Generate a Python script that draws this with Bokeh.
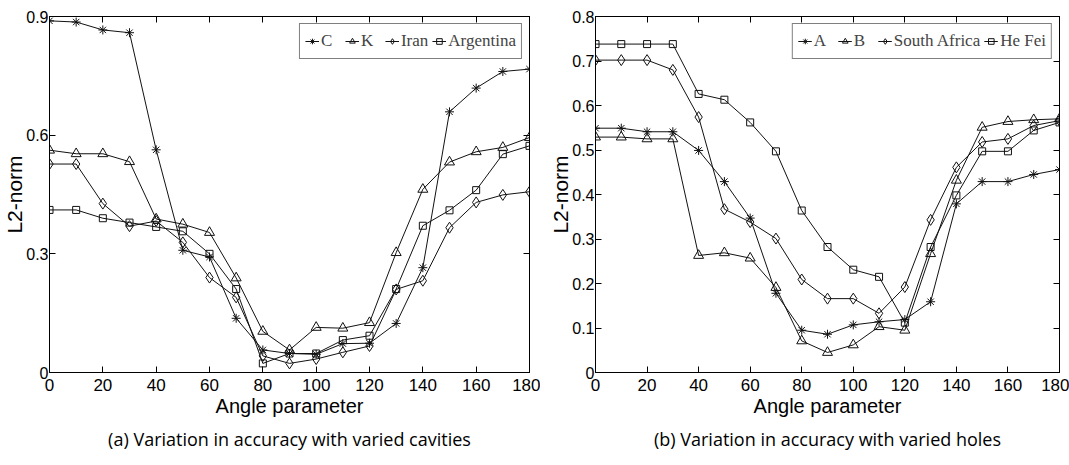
from bokeh.plotting import figure
from bokeh.models import FixedTicker, LinearAxis, Legend, LegendItem, Range1d, Title
from bokeh.layouts import row
from bokeh.embed import file_html
from bokeh.resources import INLINE

# ---------------- data ----------------
angles = [0, 10, 20, 30, 40, 50, 60, 70, 80, 90, 100, 110, 120, 130, 140, 150, 160, 170, 180]
x_ticks = [0, 20, 40, 60, 80, 100, 120, 140, 160, 180]

# (a) cavities
c_vals = [0.889, 0.886, 0.866, 0.859, 0.563, 0.309, 0.292, 0.137, 0.057, 0.048,
          0.046, 0.073, 0.074, 0.124, 0.265, 0.659, 0.719, 0.761, 0.767]
k_vals = [0.562, 0.553, 0.553, 0.533, 0.388, 0.375, 0.354, 0.239, 0.104, 0.057,
          0.114, 0.112, 0.126, 0.303, 0.463, 0.532, 0.558, 0.569, 0.594]
iran_vals = [0.527, 0.527, 0.427, 0.370, 0.383, 0.329, 0.240, 0.190, 0.042, 0.023,
             0.034, 0.051, 0.067, 0.210, 0.232, 0.366, 0.430, 0.449, 0.457]
argentina_vals = [0.411, 0.411, 0.390, 0.379, 0.368, 0.357, 0.300, 0.211, 0.023, 0.048,
                  0.048, 0.082, 0.093, 0.211, 0.371, 0.410, 0.461, 0.552, 0.573]
a_labels = ["C", "K", "Iran", "Argentina"]
a_yticks = [0, 0.3, 0.6, 0.9]
a_ytick_labels = ["0", "0.3", "0.6", "0.9"]
a_caption = "(a) Variation in accuracy with varied cavities"

# (b) holes
hA_vals = [0.549, 0.549, 0.541, 0.541, 0.499, 0.429, 0.347, 0.178, 0.095, 0.086,
           0.107, 0.114, 0.119, 0.159, 0.379, 0.429, 0.429, 0.445, 0.456]
hB_vals = [0.529, 0.529, 0.525, 0.525, 0.263, 0.269, 0.257, 0.191, 0.071, 0.045,
           0.062, 0.103, 0.095, 0.267, 0.432, 0.551, 0.564, 0.568, 0.570]
south_africa_vals = [0.702, 0.702, 0.702, 0.680, 0.574, 0.367, 0.338, 0.301, 0.209, 0.166,
                     0.166, 0.133, 0.192, 0.343, 0.461, 0.518, 0.525, 0.555, 0.566]
he_fei_vals = [0.738, 0.738, 0.738, 0.738, 0.626, 0.613, 0.562, 0.497, 0.364, 0.282,
               0.231, 0.215, 0.112, 0.282, 0.398, 0.497, 0.497, 0.544, 0.562]
b_labels = ["A", "B", "South Africa", "He Fei"]
b_yticks = [0, 0.1, 0.2, 0.3, 0.4, 0.5, 0.6, 0.7, 0.8]
b_ytick_labels = ["0", "0.1", "0.2", "0.3", "0.4", "0.5", "0.6", "0.7", "0.8"]
b_caption = "(b) Variation in accuracy with varied holes"

x_label = "Angle parameter"
y_label = "L2-norm"

# ---------------- styling ----------------
SANS = "'Liberation Sans', Arial, sans-serif"
markers = [("asterisk", 9), ("triangle", 10), ("diamond", 11), ("square", 7)]


def make_fig(width, border_left, border_right, ymax, yticks, ytick_labels,
             series, labels, caption):
    p = figure(width=width, height=465, output_backend="svg", toolbar_location=None,
               title=None, x_range=Range1d(0, 180), y_range=Range1d(0, ymax),
               min_border_left=border_left, min_border_right=border_right,
               min_border_top=16, min_border_bottom=93)
    p.background_fill_color = "white"
    p.border_fill_color = "white"
    p.outline_line_color = "black"
    p.outline_line_width = 1
    p.xgrid.visible = False
    p.ygrid.visible = False

    overrides = {t: l for t, l in zip(yticks, ytick_labels)}

    xa = p.xaxis[0]
    xa.ticker = FixedTicker(ticks=x_ticks)
    xa.axis_label = x_label
    ya = p.yaxis[0]
    ya.ticker = FixedTicker(ticks=yticks)
    ya.major_label_overrides = overrides
    ya.axis_label = y_label
    for ax in (xa, ya):
        ax.major_tick_in = 6
        ax.major_tick_out = 0
        ax.minor_tick_in = 0
        ax.minor_tick_out = 0
        ax.axis_line_color = "black"
        ax.major_tick_line_color = "black"
        ax.major_label_text_font = SANS
        ax.major_label_text_color = "black"
        ax.axis_label_text_font_style = "normal"
        ax.axis_label_text_color = "black"
    xa.major_label_text_font_size = "17px"
    xa.major_label_standoff = 6
    xa.axis_label_standoff = 1
    xa.axis_label_text_font = SANS
    xa.axis_label_text_font_size = "20px"
    ya.major_label_text_font_size = "16px"
    ya.major_label_standoff = 1
    ya.axis_label_standoff = -3
    ya.axis_label_text_font = SANS
    ya.axis_label_text_font_size = "21px"

    # mirrored tick marks on the top and right edges of the box (no labels drawn)
    top = LinearAxis(ticker=FixedTicker(ticks=x_ticks), major_tick_in=6, major_tick_out=0,
                     minor_tick_in=0, minor_tick_out=0, major_label_text_font_size="1px",
                     major_label_text_color=None, axis_line_color="black",
                     major_label_standoff=0)
    right = LinearAxis(ticker=FixedTicker(ticks=yticks), major_tick_in=6, major_tick_out=0,
                       minor_tick_in=0, minor_tick_out=0, major_label_text_font_size="1px",
                       major_label_text_color=None, axis_line_color="black",
                       major_label_standoff=0)
    p.add_layout(top, "above")
    p.add_layout(right, "right")

    items = []
    for vals, lab, (mk, sz) in zip(series, labels, markers):
        ln = p.line(angles, vals, line_color="#111111", line_width=1)
        sc = p.scatter(angles, vals, marker=mk, size=sz, line_color="#111111",
                       fill_color=None, line_width=1)
        items.append(LegendItem(label=lab, renderers=[ln, sc]))

    legend = Legend(items=items, orientation="horizontal", location="top_right",
                    margin=7, padding=5, spacing=4, glyph_width=14, glyph_height=24,
                    label_standoff=2, label_height=24,
                    label_text_font="Liberation Serif", label_text_font_size="17px",
                    border_line_color="black", border_line_width=1,
                    background_fill_color="white", background_fill_alpha=1)
    p.add_layout(legend)

    t = Title(text=caption, align="center", text_font="Open Sans",
              text_font_size="18px", text_font_style="normal", text_color="black",
              standoff=10)
    p.add_layout(t, "below")
    return p


pa = make_fig(540, 48, 11, 0.9, a_yticks, a_ytick_labels,
              [c_vals, k_vals, iran_vals, argentina_vals], a_labels, a_caption)
pb = make_fig(529, 55, 10, 0.8, b_yticks, b_ytick_labels,
              [hA_vals, hB_vals, south_africa_vals, he_fei_vals], b_labels, b_caption)

layout = row(pa, pb, spacing=0)
open("out.html", "w").write(file_html(layout, INLINE))
